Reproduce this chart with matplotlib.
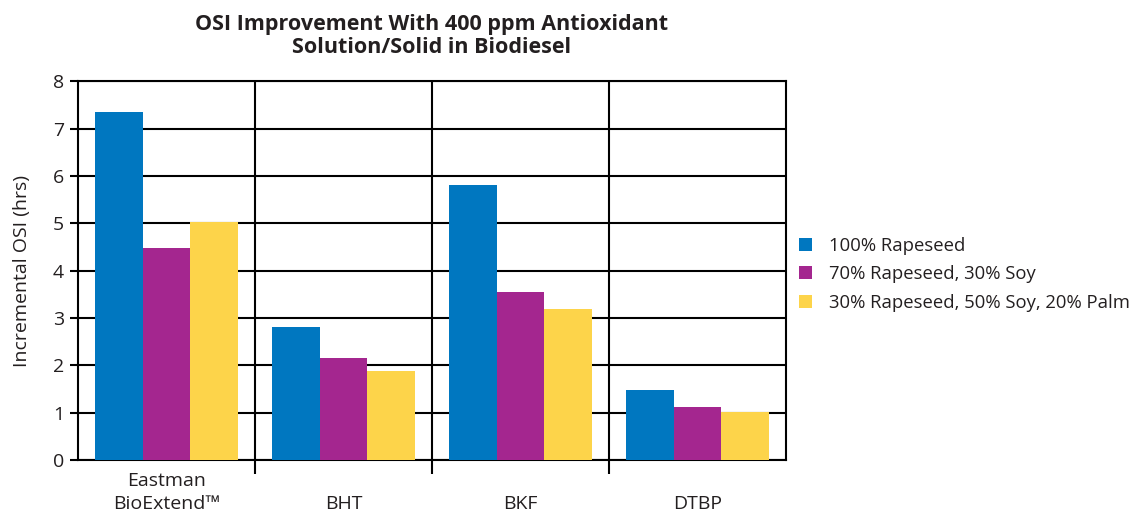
import numpy as np
import matplotlib
matplotlib.use("Agg")
import matplotlib.pyplot as plt

plt.rcParams["font.family"] = ["Open Sans", "DejaVu Sans"]

categories = ["Eastman\nBioExtend™", "BHT", "BKF", "DTBP"]
series = ["100% Rapeseed", "70% Rapeseed, 30% Soy",
          "30% Rapeseed, 50% Soy, 20% Palm"]
rapeseed = [7.35, 2.80, 5.80, 1.48]
rape_soy = [4.47, 2.15, 3.55, 1.12]
rape_soy_palm = [5.03, 1.88, 3.18, 1.02]
colors = ["#0077C0", "#A4268F", "#FDD44A"]
ink = "#231f20"

fig = plt.figure(figsize=(11.4, 5.14), dpi=100)
ax = fig.add_axes([0.0684, 0.105, 0.621, 0.737])

x = np.arange(len(categories))
w = 0.27
for k, (vals, lab, c) in enumerate(zip([rapeseed, rape_soy, rape_soy_palm],
                                       series, colors)):
    ax.bar(x + (k - 1) * w, vals, w, color=c, label=lab, zorder=3)

ax.set_xlim(-0.5, len(categories) - 0.5)
ax.set_ylim(0, 8)
ax.set_yticks(range(0, 9))
ax.set_xticks(x)
ax.set_xticklabels(categories, va="bottom", fontsize=14, color=ink,
                   linespacing=1.35)
ax.set_xticks(x[:-1] + 0.5, minor=True)
ax.tick_params(axis="x", which="major", length=0, pad=38)
ax.tick_params(axis="x", which="minor", length=10, width=1.5, color="black")
ax.tick_params(axis="y", length=6, width=1.5, labelsize=14,
               labelcolor=ink, pad=4)
ax.grid(axis="y", color="black", lw=1.5, zorder=1)
ax.grid(axis="x", which="minor", color="black", lw=1.5, zorder=1)
for s in ax.spines.values():
    s.set_linewidth(1.5)

ax.set_ylabel("Incremental OSI (hrs)", fontsize=14, color=ink, labelpad=16)
ax.set_title("OSI Improvement With 400 ppm Antioxidant\nSolution/Solid in Biodiesel",
             fontsize=15.5, fontweight="bold", color=ink, pad=20,
             linespacing=1.15)

ax.legend(loc="center left", bbox_to_anchor=(0.995, 0.49), frameon=False,
          fontsize=13.3, handlelength=0.7, handleheight=0.7,
          labelspacing=0.55, handletextpad=0.9, labelcolor=ink)

fig.savefig("out.png", dpi=100)
